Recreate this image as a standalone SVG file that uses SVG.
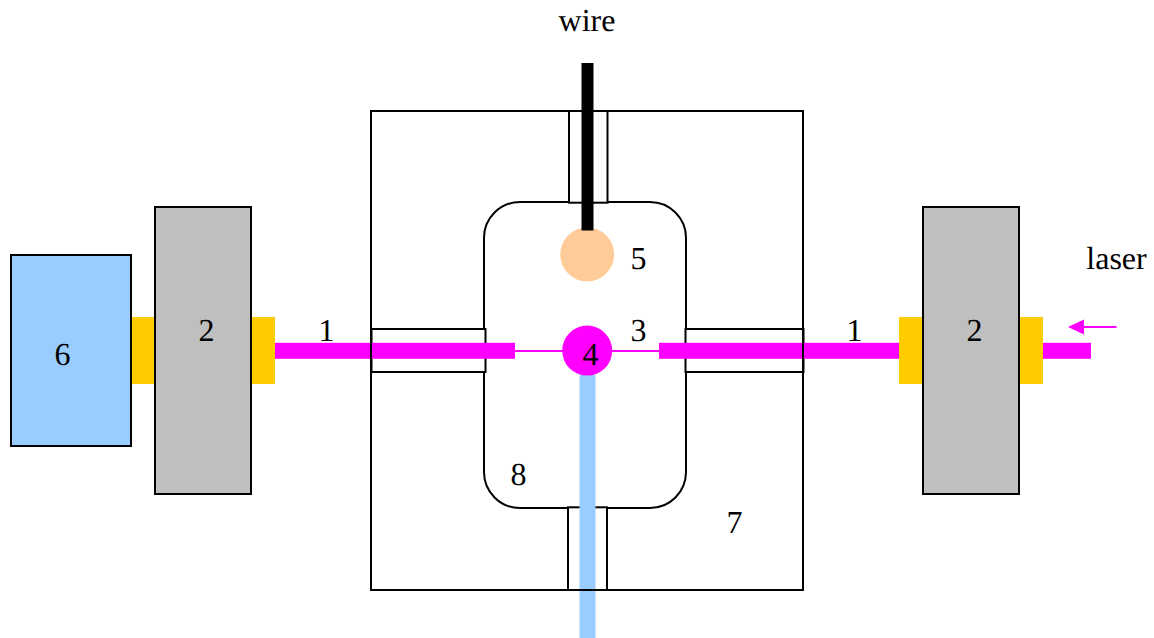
<svg xmlns="http://www.w3.org/2000/svg" width="1154" height="638" viewBox="0 0 1154 638">
<style>
.o{fill:none;stroke:#000;stroke-width:2}
.w{fill:#fff;stroke:#000;stroke-width:2}
.g{fill:#bfbfbf;stroke:#000;stroke-width:2}
.y{fill:#ffcc00}
.m{fill:#ff00ff}
.t{font-family:"Liberation Serif","Times New Roman",serif;font-size:32px;fill:#000;text-anchor:middle;text-rendering:geometricPrecision}
</style>
<defs><marker id="ah" markerUnits="userSpaceOnUse" markerWidth="17" markerHeight="16" refX="0" refY="8" orient="auto-start-reverse"><path d="M0 0.5L16 8L0 15.5Z" fill="#ff00ff"/></marker></defs>
<rect width="1154" height="638" fill="#fff"/>
<g id="node-8"><rect class="w" x="484" y="202" width="202" height="306" rx="36" ry="36"/><text class="t" x="518.5" y="485">8</text></g>
<g id="ports">
<rect class="w" x="569" y="111" width="38.5" height="91.7"/>
<rect class="w" x="568" y="507.3" width="39" height="82.7"/>
<rect class="w" x="371.5" y="329" width="114" height="43"/>
<rect class="w" x="685.5" y="329" width="118" height="43"/>
</g>
<g id="connectors">
<rect class="m" x="275" y="342.8" width="240" height="16"/>
<rect class="m" x="659" y="342.8" width="240" height="16"/>
<rect class="m" x="1043" y="342.8" width="48" height="16"/>
<rect class="m" x="515" y="350" width="144" height="2"/>
<rect x="579.5" y="375" width="16" height="263" fill="#99ccff"/>
<line x1="1116.5" y1="327" x2="1084" y2="327" stroke="#ff00ff" stroke-width="2" marker-end="url(#ah)"/>
</g>
<g id="chamber"><rect class="o" x="371" y="111" width="432" height="479"/></g>
<g id="node-5"><circle cx="587.2" cy="254.5" r="27" fill="#ffcc99"/><text class="t" x="638.5" y="269">5</text></g>
<g id="wire"><rect x="581.5" y="63" width="12" height="167.5" fill="#000"/></g>
<g id="node-4"><circle cx="587.2" cy="350.6" r="25" fill="#ff00ff"/><text class="t" x="590.5" y="365">4</text></g>
<g id="node-3"><text class="t" x="638.5" y="341">3</text></g>
<g id="collimators">
<rect class="y" x="131" y="317" width="24" height="67"/>
<rect class="y" x="251" y="317" width="24" height="67"/>
<rect class="y" x="899" y="317" width="24" height="67"/>
<rect class="y" x="1019" y="317" width="24" height="67"/>
</g>
<g id="node-6"><rect x="11" y="255" width="120" height="191" fill="#99ccff" stroke="#000" stroke-width="2"/><text class="t" x="62.5" y="365">6</text></g>
<g id="node-2-left"><rect class="g" x="155" y="207" width="96" height="287"/><text class="t" x="206.5" y="341">2</text></g>
<g id="node-2-right"><rect class="g" x="923" y="207" width="96" height="287"/><text class="t" x="974.5" y="341">2</text></g>
<g id="labels">
<text class="t" x="326.5" y="341">1</text>
<text class="t" x="854.5" y="341">1</text>
<text class="t" x="734.5" y="533">7</text>
<text class="t" x="587" y="31">wire</text>
<text class="t" x="1116.5" y="269">laser</text>
</g>
</svg>
